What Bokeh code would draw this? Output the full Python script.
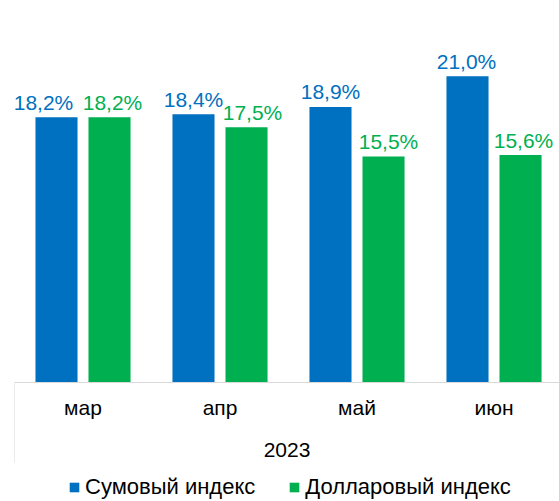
from bokeh.plotting import figure
from bokeh.models import (ColumnDataSource, Range1d, LinearAxis, FixedTicker,
                          Legend, LegendItem)
from bokeh.embed import file_html
from bokeh.resources import INLINE
from bokeh.core.properties import value

# ---- data ----
months = ["мар", "апр", "май", "июн"]
year_label = "2023"
series_names = ["Сумовый индекс", "Долларовый индекс"]
sum_index = [18.2, 18.4, 18.9, 21.0]
usd_index = [18.2, 17.5, 15.5, 15.6]

# ---- style ----
BLUE = "#0070C0"
GREEN = "#00B050"
FONT = "Liberation Sans"
AXIS_COL = "#d9d9d9"
bar_w = 0.307
dodge = 0.1935
label_dx_sum = [-13, 0, 0, -1]   # pixel nudges of data labels
label_dx_usd = [3, 6, 5, 3]

n = len(months)
xc = [i + 0.5 for i in range(n)]
fmt = lambda v: f"{v:.1f}%".replace(".", ",")

src_sum = ColumnDataSource(dict(x=[c - dodge for c in xc], top=sum_index,
                                lab=[fmt(v) for v in sum_index], dx=label_dx_sum))
src_usd = ColumnDataSource(dict(x=[c + dodge for c in xc], top=usd_index,
                                lab=[fmt(v) for v in usd_index], dx=label_dx_usd))

x_end = 3.978
p = figure(frame_width=545, frame_height=501, output_backend="svg", toolbar_location=None,
           x_range=Range1d(0, x_end), y_range=Range1d(-8.16, 26.2),
           x_axis_type=None, y_axis_type=None,
           min_border_left=14, min_border_right=0, min_border_top=0,
           min_border_bottom=0)
p.outline_line_color = None
p.xgrid.visible = False
p.ygrid.visible = False

r1 = p.vbar(x="x", top="top", width=bar_w, bottom=0, source=src_sum,
            fill_color=BLUE, line_color=None)
r2 = p.vbar(x="x", top="top", width=bar_w, bottom=0, source=src_usd,
            fill_color=GREEN, line_color=None)

for src, col in ((src_sum, BLUE), (src_usd, GREEN)):
    p.text(x="x", y="top", text="lab", source=src, x_offset="dx", y_offset=-15,
           text_align="center", text_baseline="alphabetic",
           text_font=value(FONT), text_font_size="21px", text_color=col)

# category axis (months) at y = 0, with the group separator as a long minor tick
xaxis = LinearAxis(
    fixed_location=0,
    ticker=FixedTicker(ticks=xc, minor_ticks=[0, n]),
    major_label_overrides={c: m for c, m in zip(xc, months)},
    axis_line_color=AXIS_COL, axis_line_width=1,
    major_tick_line_color=None, major_tick_out=0, major_tick_in=0,
    minor_tick_line_color=AXIS_COL, minor_tick_out=80, minor_tick_in=0,
    major_label_text_font=FONT, major_label_text_font_size="21px",
    major_label_text_color="#000000", major_label_standoff=-67,
)
p.add_layout(xaxis, "below")

# group axis (year)
gaxis = LinearAxis(
    fixed_location=0,
    ticker=FixedTicker(ticks=[x_end / 2]),
    major_label_overrides={x_end / 2: year_label},
    axis_line_color=None, major_tick_line_color=None,
    major_tick_out=0, major_tick_in=0,
    minor_tick_line_color=None,
    major_label_text_font=FONT, major_label_text_font_size="21px",
    major_label_text_color="#000000", major_label_standoff=60,
)
p.add_layout(gaxis, "below")

legend = Legend(items=[LegendItem(label=series_names[0], renderers=[r1]),
                       LegendItem(label=series_names[1], renderers=[r2])],
                orientation="horizontal", location=(54, 1),
                glyph_width=12, glyph_height=12, label_standoff=5, spacing=33,
                label_text_font=FONT, label_text_font_size="22px",
                label_text_color="#000000", padding=0, margin=0,
                border_line_color=None, background_fill_alpha=0)
p.add_layout(legend)

open("out.html", "w").write(file_html(p, INLINE))
